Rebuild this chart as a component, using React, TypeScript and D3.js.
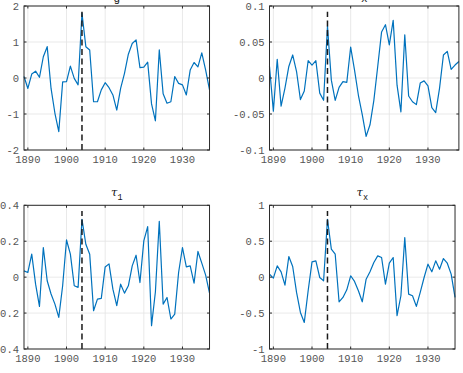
import React from 'react';
import * as d3 from 'd3';

const svgWidth = 463;
const svgHeight = 373;

const firstYear = 1889;
const years = d3.range(firstYear, 1938);
const yearsX = d3.range(firstYear, 1939);
const yearTicks = [1890, 1900, 1910, 1920, 1930];
const eventYear = 1904;

const gValues = [
  0.04, -0.29, 0.11, 0.19, 0.02, 0.59, 0.87, -0.29, -0.98, -1.49,
  -0.11, -0.1, 0.33, -0.01, -0.19, 1.8, 0.87, 0.78, -0.66, -0.66,
  -0.33, -0.13, -0.27, -0.47, -0.89, -0.29, 0.13, 0.66, 0.96, 1.06,
  0.29, 0.3, 0.44, -0.72, -1.19, 0.78, -0.44, -0.7, -0.66, 0.04,
  -0.15, -0.19, -0.47, 0.22, 0.43, 0.31, 0.7, 0.22, -0.33,
];

const xValues = [
  0.016, -0.046, 0.026, -0.039, -0.014, 0.016, 0.032, 0.009, -0.03, -0.018,
  0.024, 0.018, 0.024, -0.021, -0.031, 0.072, -0.003, -0.031, -0.013, -0.005,
  -0.006, 0.043, 0.011, -0.024, -0.051, -0.081, -0.065, -0.031, 0.016, 0.064,
  0.074, 0.046, 0.08, -0.01, -0.047, 0.06, -0.025, -0.033, -0.037, -0.007,
  -0.004, -0.011, -0.041, -0.048, -0.014, 0.032, 0.037, 0.012, 0.018, 0.023,
];

const tau1Values = [
  0.035, 0.026, 0.128, -0.039, -0.163, 0.165, -0.02, -0.094, -0.15, -0.224,
  -0.048, 0.207, 0.128, -0.048, -0.057, 0.322, 0.183, 0.128, -0.187, -0.122,
  -0.118, 0.057, 0.074, -0.067, -0.159, -0.039, -0.089, -0.048, 0.063, 0.122,
  -0.03, 0.202, 0.281, -0.27, -0.081, 0.311, -0.15, -0.113, -0.233, -0.206,
  0.026, 0.165, 0.057, 0.063, -0.033, 0.143, 0.078, 0.011, -0.089,
];

const tauXValues = [
  0.042, -0.014, 0.157, 0.074, -0.111, 0.287, 0.148, -0.213, -0.491, -0.63,
  -0.19, 0.213, 0.227, -0.005, -0.051, 0.806, 0.389, 0.319, -0.343, -0.282,
  -0.176, 0.019, -0.06, -0.19, -0.343, -0.028, 0.074, 0.204, 0.296, 0.273,
  -0.097, 0.194, 0.273, -0.537, -0.259, 0.551, -0.236, -0.259, -0.407, -0.213,
  -0.005, 0.181, 0.074, 0.227, 0.111, 0.259, 0.194, 0.042, -0.282,
];

const gTicks = [-2, -1, 0, 1, 2];
const xTicks = [-0.1, -0.05, 0, 0.05, 0.1];
const tau1Ticks = [-0.4, -0.2, 0, 0.2, 0.4];
const tauXTicks = [-1, -0.5, 0, 0.5, 1];

const lineColor = '#0072BD';
const boxColor = '#2b2b2b';
const gridColor = '#e3e3e3';
const tickTextColor = '#555';
const monoFont = '"Liberation Mono", "DejaVu Sans Mono", monospace';

// axes boxes: two columns, two rows
const cols = [24, 269.5];
const pxPerYear = 3.865;
const rows = [
  [6, 150],
  [205.3, 349],
];

type Panel = {
  title: string;
  sub?: string;
  xs: number[];
  values: number[];
  ticks: number[];
  col: number;
  row: number;
};

const panels: Panel[] = [
  { title: 'g', xs: years, values: gValues, ticks: gTicks, col: 0, row: 0 },
  { title: 'x', xs: yearsX, values: xValues, ticks: xTicks, col: 1, row: 0 },
  { title: 'τ', sub: '1', xs: years, values: tau1Values, ticks: tau1Ticks, col: 0, row: 1 },
  { title: 'τ', sub: 'x', xs: years, values: tauXValues, ticks: tauXTicks, col: 1, row: 1 },
];

function SubPlot({ p }: { p: Panel }) {
  const x0 = cols[p.col];
  const lastYear = p.xs[p.xs.length - 1];
  const x = d3
    .scaleLinear()
    .domain([firstYear, lastYear])
    .range([x0, x0 + (lastYear - firstYear) * pxPerYear]);
  const [top, bottom] = rows[p.row];
  const yMin = p.ticks[0];
  const yMax = p.ticks[p.ticks.length - 1];
  const y = d3.scaleLinear().domain([yMin, yMax]).range([bottom, top]);

  const line = d3
    .line<number>()
    .x((_, i) => x(p.xs[i]))
    .y((d) => y(d));

  const [left, right] = x.range();
  const tickLen = 2.5;
  const cx = (left + right) / 2;

  return (
    <g>
      {/* grid */}
      {yearTicks.map((t) => (
        <line key={'gx' + t} x1={x(t)} x2={x(t)} y1={top} y2={bottom} stroke={gridColor} strokeWidth={0.8} />
      ))}
      {p.ticks.map((t) => (
        <line key={'gy' + t} x1={left} x2={right} y1={y(t)} y2={y(t)} stroke={gridColor} strokeWidth={0.8} />
      ))}

      <path d={line(p.values) ?? ''} fill="none" stroke={lineColor} strokeWidth={1.2} strokeLinejoin="round" />

      <line
        x1={x(eventYear)}
        x2={x(eventYear)}
        y1={y(yMin)}
        y2={y(yMax * 0.92)}
        stroke="#1a1a1a"
        strokeWidth={1.5}
        strokeDasharray="6,3.5"
      />

      {/* box and inward ticks */}
      <rect x={left} y={top} width={right - left} height={bottom - top} fill="none" stroke={boxColor} strokeWidth={1} />
      {yearTicks.map((t) => (
        <g key={'tx' + t}>
          <line x1={x(t)} x2={x(t)} y1={bottom} y2={bottom - tickLen} stroke={boxColor} />
          <line x1={x(t)} x2={x(t)} y1={top} y2={top + tickLen} stroke={boxColor} />
          <text
            x={x(t)}
            y={bottom + 13}
            textAnchor="middle"
            fontFamily={monoFont}
            fontSize={10.5}
            fill={tickTextColor}
          >
            {t}
          </text>
        </g>
      ))}
      {p.ticks.map((t) => (
        <g key={'ty' + t}>
          <line x1={left} x2={left + tickLen} y1={y(t)} y2={y(t)} stroke={boxColor} />
          <line x1={right} x2={right - tickLen} y1={y(t)} y2={y(t)} stroke={boxColor} />
          <text
            x={left - 5}
            y={y(t)}
            dy="0.35em"
            textAnchor="end"
            fontFamily={monoFont}
            fontSize={10.5}
            fill={tickTextColor}
          >
            {String(t)}
          </text>
        </g>
      ))}

      {/* title */}
      {p.sub ? (
        <text x={cx} y={top - 9} textAnchor="middle" fill="#111">
          <tspan fontFamily='"DejaVu Serif", serif' fontStyle="italic" fontSize={11.5}>
            {p.title}
          </tspan>
          <tspan fontFamily={monoFont} fontSize={8.5} dy={4}>
            {p.sub}
          </tspan>
        </text>
      ) : (
        <text x={cx} y={top - 4.5} textAnchor="middle" fontFamily={monoFont} fontSize={11} fill="#111">
          {p.title}
        </text>
      )}
    </g>
  );
}

export default function App() {
  return (
    <svg
      width={svgWidth}
      height={svgHeight}
      style={{ position: 'absolute', left: 0, top: 0, background: '#fff' }}
    >
      {panels.map((p, i) => (
        <SubPlot key={i} p={p} />
      ))}
    </svg>
  );
}
